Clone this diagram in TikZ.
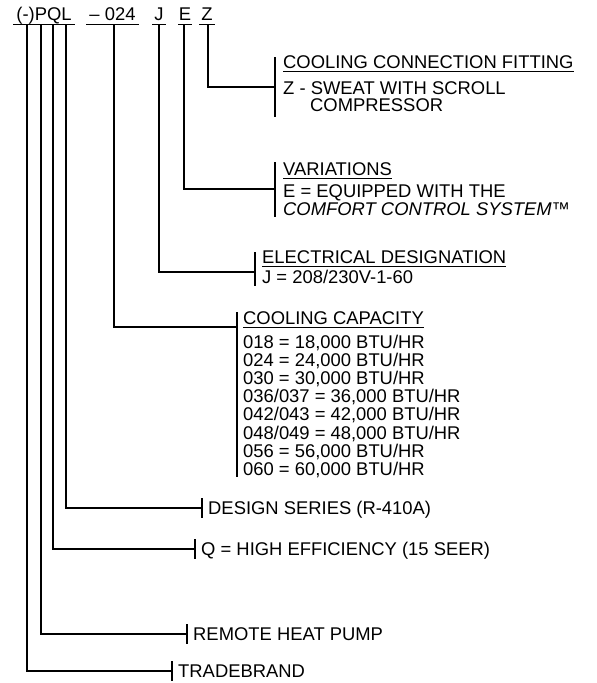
\documentclass[tikz,border=0pt]{standalone}
\usepackage{fontspec}
\setmainfont{Liberation Sans}
\begin{document}
\begin{tikzpicture}[x=1pt,y=-1pt,
  lbl/.style={anchor=base west,inner sep=0pt,font=\fontsize{18.4}{18.4}\selectfont},
  hdr/.style={anchor=base,inner sep=0pt,font=\fontsize{18.4}{18.4}\selectfont},
  wire/.style={line width=1.8pt,line cap=rect},
  brk/.style={line width=2pt},
  uline/.style={line width=1pt}]
\useasboundingbox (0,0) rectangle (597,683);
% header
\node[hdr] (hP) at (44,20) {(-)PQL};
\node[hdr] (h0) at (112.5,20) {– 024};
\node[hdr] (hJ) at (159,20) {J};
\node[hdr] (hE) at (185,20) {E};
\node[hdr] (hZ) at (207,20) {Z};
\draw[uline] (13,24.5) -- (75,24.5);
\draw[uline] (86,24.5) -- (139,24.5);
\draw[uline] (152,24.5) -- (166,24.5);
\draw[uline] (178,24.5) -- (192,24.5);
\draw[uline] (199,24.5) -- (215,24.5);
% tops of stems
\coordinate (s1) at (27,25);
\coordinate (s2) at (41,25);
\coordinate (s3) at (53,25);
\coordinate (s4) at (66,25);
\coordinate (s5) at (114,25);
\coordinate (s6) at (159,25);
\coordinate (s7) at (184,25);
\coordinate (s8) at (208,25);
% bracket points
\coordinate (bZ) at (275,87);
\coordinate (bE) at (275,189);
\coordinate (bJ) at (255,272);
\coordinate (bC) at (237,327);
\coordinate (bL) at (202,508);
\coordinate (bQ) at (195,549);
\coordinate (bP) at (187,634);
\coordinate (bT) at (172,671);
% wires
\draw[wire] (s8) |- (bZ);
\draw[wire] (s7) |- (bE);
\draw[wire] (s6) |- (bJ);
\draw[wire] (s5) |- (bC);
\draw[wire] (s4) |- (bL);
\draw[wire] (s3) |- (bQ);
\draw[wire] (s2) |- (bP);
\draw[wire] (s1) |- (bT);
% brackets
\draw[brk] (275,57) -- (275,117);
\draw[brk] (275,162) -- (275,217);
\draw[brk] (255,252) -- (255,286);
\draw[brk] (237,312) -- (237,477);
\draw[brk] (bL)++(0,-10) -- ++(0,20);
\draw[brk] (bQ)++(0,-10) -- ++(0,20);
\draw[brk] (bP)++(0,-10) -- ++(0,20);
\draw[brk] (bT)++(0,-10) -- ++(0,20);
% group Z
\node[lbl] (z1) at (283,68) {COOLING CONNECTION FITTING};
\draw[uline] ([yshift=-3pt]z1.base west) -- ([yshift=-3pt]z1.base east);
\node[lbl] (z2) at (283,94) {Z - SWEAT WITH SCROLL};
\node[lbl] (z3) at (310,111) {COMPRESSOR};
% group E
\node[lbl] (e1) at (283,175) {VARIATIONS};
\draw[uline] ([yshift=-3pt]e1.base west) -- ([yshift=-3pt]e1.base east);
\node[lbl] (e2) at (283,197) {E = EQUIPPED WITH THE};
\node[lbl] (e3) at (283,215) {\itshape COMFORT CONTROL SYSTEM™};
% group J
\node[lbl] (j1) at (262,263) {ELECTRICAL DESIGNATION};
\draw[uline] ([yshift=-3pt]j1.base west) -- ([yshift=-3pt]j1.base east);
\node[lbl] (j2) at (262,283) {J = 208/230V-1-60};
% group capacity
\node[lbl] (c0) at (243,324) {COOLING CAPACITY};
\draw[uline] ([yshift=-3pt]c0.base west) -- ([yshift=-3pt]c0.base east);
\node[lbl] (c1) at (243,348) {018 = 18,000 BTU/HR};
\node[lbl] (c2) at (243,366.2) {024 = 24,000 BTU/HR};
\node[lbl] (c3) at (243,384.4) {030 = 30,000 BTU/HR};
\node[lbl] (c4) at (243,402.6) {036/037 = 36,000 BTU/HR};
\node[lbl] (c5) at (243,420.8) {042/043 = 42,000 BTU/HR};
\node[lbl] (c6) at (243,439) {048/049 = 48,000 BTU/HR};
\node[lbl] (c7) at (243,457.2) {056 = 56,000 BTU/HR};
\node[lbl] (c8) at (243,475.4) {060 = 60,000 BTU/HR};
% single-line groups
\node[lbl] (tL) at (208,514.5) {DESIGN SERIES (R-410A)};
\node[lbl] (tQ) at (201,555.5) {Q = HIGH EFFICIENCY (15 SEER)};
\node[lbl] (tP) at (193,640.5) {REMOTE HEAT PUMP};
\node[lbl] (tT) at (178,677.5) {TRADEBRAND};
\end{tikzpicture}
\end{document}
